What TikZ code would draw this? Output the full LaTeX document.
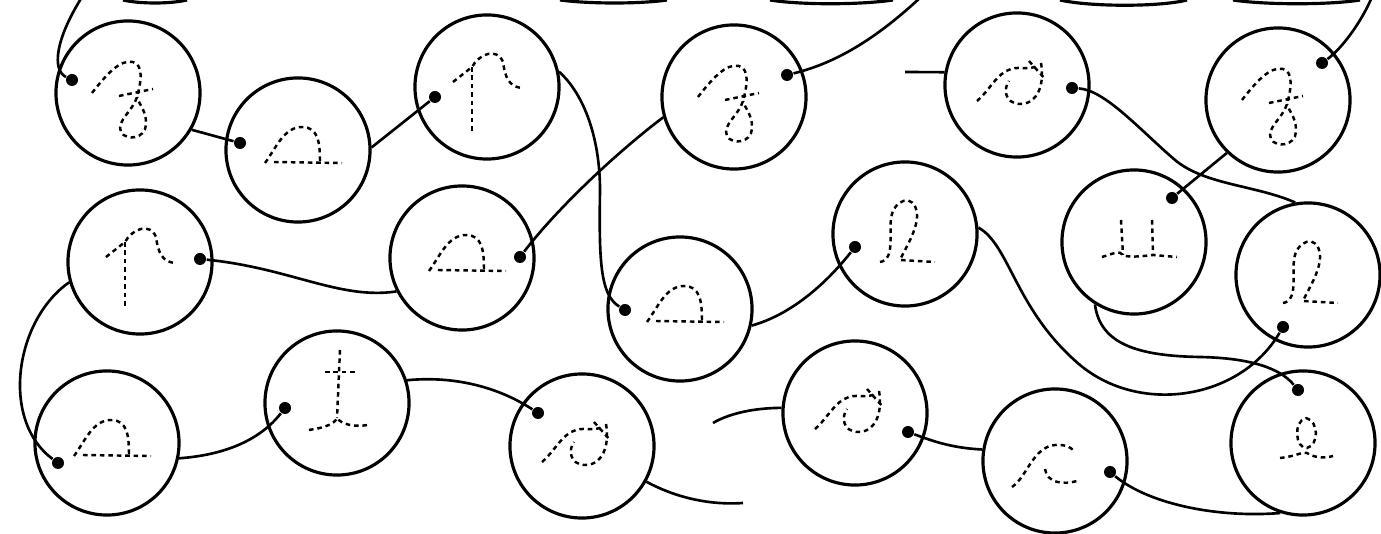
\documentclass[tikz,border=0pt]{standalone}
\usepackage{tikz}

\tikzset{
  ring/.style={circle, draw, line width=0.9pt, minimum size=1.44cm, inner sep=0pt},
  spot/.style={circle, fill, inner sep=0pt, minimum size=0.12cm},
  wire/.style={line width=0.75pt},
  trace/.style={line width=0.7pt, dash pattern=on 1.3pt off 1.1pt},
  letter f/.pic={
    \draw[trace] (-36,0) .. controls (-22,-18) and (-8,-34) .. (5,-31) .. controls (16,-28) and (13,-10) .. (9,4)
      .. controls (5,18) and (-12,28) .. (-7,39) .. controls (-2,48) and (17,46) .. (18,32) .. controls (19,18) and (10,10) .. (9,4);
    \draw[trace] (-9,3) -- (25,-4);
  },
  letter a/.pic={
    \draw[trace] (-33,13) .. controls (-22,-2) and (-14,-23) .. (4,-23) .. controls (20,-23) and (22,-8) .. (22,12);
    \draw[trace] (-24,12) -- (44,13);
  },
  letter n/.pic={
    \draw[trace] (-34,-5) -- (-15,-20) .. controls (-8,-33) and (10,-40) .. (16,-25) .. controls (18,-10) and (22,0) .. (35,1);
    \draw[trace] (-15,-20) -- (-15,45);
  },
  letter x/.pic={
    \draw[trace] (-40,16) .. controls (-28,6) and (-20,-12) .. (-6,-16) .. controls (4,-19) and (12,-14) .. (22,-20);
    \draw[trace] (24,-22) .. controls (28,0) and (20,20) .. (2,19) .. controls (-12,18) and (-14,4) .. (-8,-4);
    \draw[trace] (12,-24) -- (28,-6);
  },
  letter l/.pic={
    \draw[trace] (-25,28) .. controls (-10,26) and (-16,0) .. (-14,-15) .. controls (-12,-35) and (10,-42) .. (12,-20)
      .. controls (13,-5) and (0,15) .. (-5,26) -- (30,28);
  },
  letter u/.pic={
    \draw[trace] (-13,-22) -- (-11,13);
    \draw[trace] (18,-22) -- (19,13);
    \draw[trace] (-32,15) .. controls (-22,12) and (-14,8) .. (-11,13) .. controls (-6,16) and (10,14) .. (19,13) -- (43,15);
  },
  letter t/.pic={
    \draw[trace] (3,-53) -- (0,15);
    \draw[trace] (-12,-31) -- (18,-31);
    \draw[trace] (-28,27) .. controls (-15,25) and (-3,22) .. (0,15) .. controls (5,22) and (18,24) .. (31,22);
  },
  letter c/.pic={
    \draw[trace] (-43,26) .. controls (-28,16) and (-22,-14) .. (0,-16) .. controls (12,-17) and (18,-12) .. (18,-10);
    \draw[trace] (-10,8) .. controls (-8,22) and (8,24) .. (22,20);
  },
  letter q/.pic={
    \draw[trace] (3,-25) .. controls (16,-22) and (16,2) .. (4,5) .. controls (-8,6) and (-10,-22) .. (3,-25);
    \draw[trace] (-23,15) .. controls (-5,13) and (0,8) .. (4,10) .. controls (10,14) and (20,16) .. (30,13);
  }
}

\begin{document}
\begin{tikzpicture}[x=0.01cm, y=-0.01cm]
  \useasboundingbox (0,0) rectangle (1381,534);
  \clip (0,0) rectangle (1381,534);

  \node[ring] (f1) at (128,93) {};
  \node[ring] (a1) at (298,150) {};
  \node[ring] (n1) at (487,87) {};
  \node[ring] (f2) at (734,97) {};
  \node[ring] (x1) at (1017,85) {};
  \node[ring] (f3) at (1278,100) {};
  \node[ring] (n2) at (140,262) {};
  \node[ring] (a2) at (462,258) {};
  \node[ring] (a3) at (680,309) {};
  \node[ring] (l1) at (905,234) {};
  \node[ring] (u1) at (1134,242) {};
  \node[ring] (l2) at (1308,275) {};
  \node[ring] (a4) at (107,443) {};
  \node[ring] (t1) at (337,403) {};
  \node[ring] (x2) at (582,446) {};
  \node[ring] (x3) at (855,413) {};
  \node[ring] (c1) at (1055,461) {};
  \node[ring] (q1) at (1303,443) {};

  \node[spot] (f1in) at (72,80) {};
  \node[spot] (a1in) at (240,143) {};
  \node[spot] (n1in) at (435,97) {};
  \node[spot] (f2in) at (787,75) {};
  \node[spot] (x1in) at (1072,88) {};
  \node[spot] (f3in) at (1322,63) {};
  \node[spot] (n2in) at (200,259) {};
  \node[spot] (a2in) at (520,257) {};
  \node[spot] (a3in) at (625,310) {};
  \node[spot] (l1in) at (855,247) {};
  \node[spot] (u1in) at (1172,198) {};
  \node[spot] (l2in) at (1283,327) {};
  \node[spot] (a4in) at (58,463) {};
  \node[spot] (t1in) at (285,408) {};
  \node[spot] (x2in) at (538,413) {};
  \node[spot] (x3in) at (908,432) {};
  \node[spot] (c1in) at (1110,472) {};
  \node[spot] (q1in) at (1298,390) {};

  \coordinate (f1top) at (82,-3);
  \coordinate (f2top) at (921,-3);
  \coordinate (f3top) at (1372,-3);
  \coordinate (x1end) at (905,72);
  \coordinate (x2end) at (743,503);
  \coordinate (x3end) at (713,423);

  \pic at (f1) {letter f};
  \pic at (f2) {letter f};
  \pic at (f3) {letter f};
  \pic at (a1) {letter a};
  \pic at (a2) {letter a};
  \pic at (a3) {letter a};
  \pic at (a4) {letter a};
  \pic at (n1) {letter n};
  \pic at (n2) {letter n};
  \pic at (x1) {letter x};
  \pic at (x2) {letter x};
  \pic at (x3) {letter x};
  \pic at (l1) {letter l};
  \pic at (l2) {letter l};
  \pic at (u1) {letter u};
  \pic at (t1) {letter t};
  \pic at (c1) {letter c};
  \pic at (q1) {letter q};

  \draw[wire] (f1top) .. controls (55,40) and (52,70) .. (f1in);
  \draw[wire] (f1.-30) -- (a1in);
  \draw[wire] (a1.2) -- (n1in);
  \draw[wire] (n1.12) .. controls (585,95) and (600,140) .. (600,190) .. controls (599,260) and (600,295) .. (a3in);
  \draw[wire] (a3.-13) .. controls (790,315) and (825,285) .. (l1in);
  \draw[wire] (l1.5) .. controls (1010,245) and (1015,310) .. (1080,365) .. controls (1140,415) and (1240,400) .. (l2in);
  \draw[wire] (l2.100) .. controls (1255,185) and (1205,185) .. (1175,160) .. controls (1140,130) and (1105,90) .. (x1in);
  \draw[wire] (x1.170) -- (x1end);
  \draw[wire] (f3top) .. controls (1360,25) and (1340,50) .. (f3in);
  \draw[wire] (f3.-134) -- (u1in);
  \draw[wire] (u1.-122) .. controls (1100,345) and (1140,356) .. (1200,357) .. controls (1250,358) and (1280,368) .. (q1in);
  \draw[wire] (q1.-108) .. controls (1220,518) and (1150,505) .. (c1in);
  \draw[wire] (c1.171) .. controls (950,448) and (930,440) .. (x3in);
  \draw[wire] (x3.176) .. controls (755,408) and (730,413) .. (x3end);
  \draw[wire] (f2top) .. controls (880,35) and (840,62) .. (f2in);
  \draw[wire] (f2.196) .. controls (620,150) and (560,205) .. (a2in);
  \draw[wire] (a2.207) .. controls (340,300) and (290,268) .. (n2in);
  \draw[wire] (n2.196) .. controls (15,320) and (0,420) .. (a4in);
  \draw[wire] (a4.-12) .. controls (225,455) and (260,440) .. (t1in);
  \draw[wire] (t1.18) .. controls (450,376) and (495,385) .. (x2in);
  \draw[wire] (x2.-29) .. controls (680,500) and (715,505) .. (x2end);

  \draw[ring] (123,0) .. controls (140,4) and (170,4) .. (187,0);
  \draw[ring] (560,0) .. controls (590,4) and (640,4) .. (667,0);
  \draw[ring] (770,0) .. controls (800,5) and (860,5) .. (893,0);
  \draw[ring] (1060,0) .. controls (1090,7) and (1160,7) .. (1187,0);
  \draw[ring] (1233,0) .. controls (1265,5) and (1330,5) .. (1360,0);
\end{tikzpicture}
\end{document}
